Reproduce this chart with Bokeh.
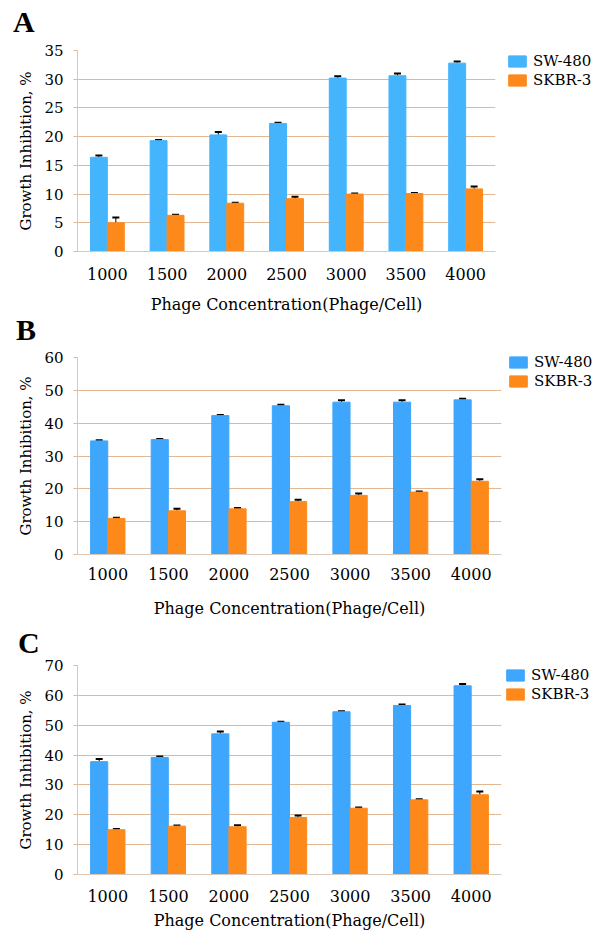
from bokeh.plotting import figure
from bokeh.models import (ColumnDataSource, FactorRange, Range1d, SingleIntervalTicker,
                          Whisker, TeeHead, Legend, LegendItem, Div)
from bokeh.transform import dodge
from bokeh.layouts import column
from bokeh.embed import file_html
from bokeh.resources import INLINE

cats = ["1000", "1500", "2000", "2500", "3000", "3500", "4000"]
series_names = ["SW-480", "SKBR-3"]
x_title = "Phage Concentration(Phage/Cell)"
y_title = "Growth Inhibition, %"
panel_letters = ["A", "B", "C"]

A_sw = [16.4, 19.3, 20.3, 22.3, 30.2, 30.6, 32.8]
A_sw_err = [0.3, 0.1, 0.5, 0.1, 0.3, 0.4, 0.3]
A_sk = [5.0, 6.3, 8.4, 9.2, 10.0, 10.1, 10.9]
A_sk_err = [0.9, 0.1, 0.1, 0.35, 0.1, 0.1, 0.4]

B_sw = [34.6, 35.0, 42.3, 45.3, 46.4, 46.4, 47.1]
B_sw_err = [0.2, 0.2, 0.2, 0.3, 0.6, 0.6, 0.3]
B_sk = [11.0, 13.3, 13.9, 16.1, 18.0, 19.0, 22.3]
B_sk_err = [0.2, 0.6, 0.3, 0.6, 0.6, 0.2, 0.6]

C_sw = [37.8, 39.2, 47.1, 51.0, 54.5, 56.6, 63.2]
C_sw_err = [0.9, 0.3, 0.8, 0.2, 0.2, 0.3, 0.6]
C_sk = [15.0, 16.2, 16.0, 19.1, 22.2, 25.0, 26.7]
C_sk_err = [0.2, 0.2, 0.5, 0.7, 0.2, 0.2, 1.1]

FONT = "DejaVu Serif"
ORANGE = "#fe891b"
GRID = "#e2b894"
AXIS = "#d9c9bc"
W = 607


def letter_div(letter, height, left, top):
    html = ('<div style="position:relative; left:%dpx; top:%dpx; margin:0; padding:0; '
            'font-family:\'Liberation Serif\'; font-weight:bold; font-size:30px; '
            'line-height:30px; color:black;">%s</div>') % (left, top, letter)
    return Div(text=html, width=W, height=height, margin=0)


def make_panel(sw, sw_err, sk, sk_err, ymax, blue, lay):
    fw, fh, bl, bt, bb = lay["fw"], lay["fh"], lay["bl"], lay["bt"], lay["bb"]
    p = figure(x_range=FactorRange(*cats, range_padding=0, factor_padding=0),
               y_range=Range1d(0, ymax),
               frame_width=fw, frame_height=fh,
               min_border_left=bl, min_border_right=W - bl - fw,
               min_border_top=bt, min_border_bottom=bb,
               output_backend="svg", toolbar_location=None, tools="")
    p.title.text = ""
    p.title.standoff = 0
    src = ColumnDataSource(dict(cat=cats, sw=sw, sk=sk,
                                sw_up=[v + e for v, e in zip(sw, sw_err)],
                                sk_up=[v + e for v, e in zip(sk, sk_err)]))
    off = 0.142
    w = 0.283
    r1 = p.vbar(x=dodge("cat", -off, range=p.x_range), top="sw", width=w, source=src,
                fill_color=blue, line_color=blue)
    r2 = p.vbar(x=dodge("cat", off, range=p.x_range), top="sk", width=w, source=src,
                fill_color=ORANGE, line_color=ORANGE)
    for o, lo, up in [(-off, "sw", "sw_up"), (off, "sk", "sk_up")]:
        wk = Whisker(base=dodge("cat", o, range=p.x_range), lower=lo, upper=up, source=src,
                     line_color="black", line_width=1,
                     upper_head=TeeHead(size=7, line_color="black", line_width=2),
                     lower_head=None)
        p.add_layout(wk)

    leg = Legend(items=[LegendItem(label=series_names[0], renderers=[r1]),
                        LegendItem(label=series_names[1], renderers=[r2])],
                 location=lay["leg"], padding=0, margin=0, spacing=1,
                 glyph_width=22, glyph_height=14, label_standoff=5, label_height=14,
                 label_text_font=FONT, label_text_font_size="15px",
                 label_text_color="black",
                 border_line_color=None, background_fill_alpha=0)
    p.add_layout(leg, "right")

    p.yaxis.ticker = SingleIntervalTicker(interval=lay["yint"])
    for ax in (p.xaxis, p.yaxis):
        ax.axis_line_color = AXIS
        ax.major_label_text_font = FONT
        ax.major_label_text_color = "black"
        ax.axis_label_text_font = FONT
        ax.axis_label_text_font_style = "normal"
        ax.axis_label_text_color = "black"
        ax.minor_tick_line_color = None
    p.xaxis.major_label_text_font_size = "16px"
    p.yaxis.major_label_text_font_size = "15px"
    p.xaxis.axis_label_text_font_size = "16px"
    p.yaxis.axis_label_text_font_size = "15px"
    p.xaxis.major_tick_line_color = None
    p.xaxis.major_label_standoff = lay["xls"]
    p.xaxis.axis_label = x_title
    p.xaxis.axis_label_standoff = lay["xts"]
    p.yaxis.major_tick_line_color = GRID
    p.yaxis.major_tick_out = 4
    p.yaxis.major_tick_in = 0
    p.yaxis.major_label_standoff = 10
    p.yaxis.axis_label = y_title
    p.yaxis.axis_label_standoff = 6
    p.xgrid.grid_line_color = None
    p.ygrid.grid_line_color = GRID
    p.outline_line_color = None
    return p


dA = letter_div(panel_letters[0], 40, 13, 7)
pA = make_panel(A_sw, A_sw_err, A_sk, A_sk_err, 35, "#44b4fc",
                dict(fw=418, fh=201, bl=74, bt=10, bb=65, yint=5, xls=10, xts=12,
                     leg=(11, 162)))
dB = letter_div(panel_letters[1], 29, 16, -1)
pB = make_panel(B_sw, B_sw_err, B_sk, B_sk_err, 60, "#3ea6fd",
                dict(fw=424, fh=197, bl=74, bt=12, bb=66, yint=10, xls=7, xts=16,
                     leg=(6, 164)))
dC = letter_div(panel_letters[2], 37, 18, 8)
pC = make_panel(C_sw, C_sw_err, C_sk, C_sk_err, 70, "#3ea6fd",
                dict(fw=424, fh=209, bl=77, bt=8, bb=58, yint=10, xls=9, xts=6,
                     leg=(3, 171)))

layout = column(dA, pA, dB, pB, dC, pC, spacing=0)
open("out.html", "w").write(file_html(layout, INLINE))
